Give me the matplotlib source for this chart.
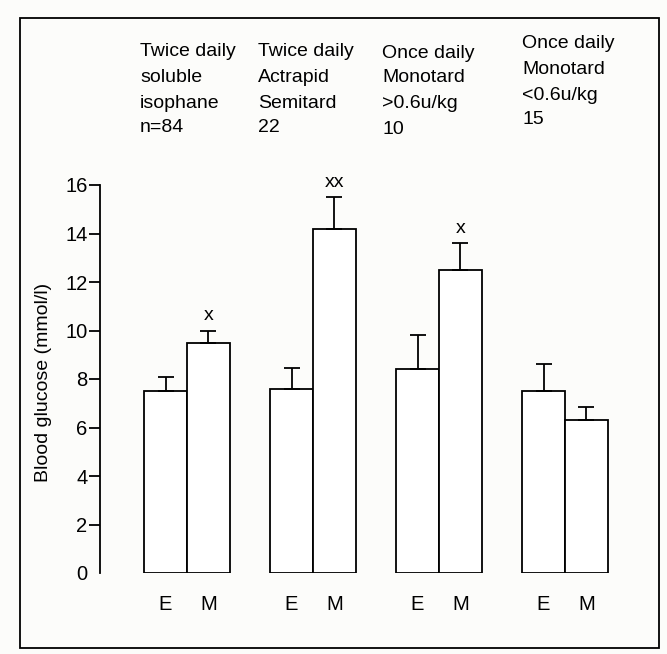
import matplotlib
matplotlib.use("Agg")
import matplotlib.pyplot as plt
from matplotlib.patches import Rectangle
import numpy as np

plt.rcParams['font.family'] = ['Liberation Sans', 'DejaVu Sans']

# header text above each pair of bars
header_lines = [
    ['Twice daily', 'soluble', 'isophane', 'n=84'],
    ['Twice daily', 'Actrapid', 'Semitard', '22'],
    ['Once daily', 'Monotard', '>0.6u/kg', '10'],
    ['Once daily', 'Monotard', '<0.6u/kg', '15'],
]
bar_labels = ['E', 'M']

e_mean = [7.5, 7.6, 8.4, 7.5]
e_err = [0.6, 0.85, 1.4, 1.1]
m_mean = [9.5, 14.2, 12.5, 6.3]
m_err = [0.5, 1.3, 1.1, 0.55]
signif = ['x', 'xx', 'x', '']

yticks = [0, 2, 4, 6, 8, 10, 12, 14, 16]

W, H = 667, 654
fig = plt.figure(figsize=(W / 100, H / 100), dpi=100)
fig.patch.set_facecolor('#fcfcfa')

ax = fig.add_axes([100 / W, (H - 573) / H, 545 / W, 388 / H])
ax.set_facecolor('none')

x = np.arange(len(e_mean))
w = 0.34
ekw = dict(ecolor='black', elinewidth=1.3, capsize=5.5, capthick=1.3)
ax.bar(x - w / 2, e_mean, w, yerr=[np.zeros(len(e_err)), e_err],
       color='white', edgecolor='black', linewidth=1.3, error_kw=ekw)
ax.bar(x + w / 2, m_mean, w, yerr=[np.zeros(len(m_err)), m_err],
       color='white', edgecolor='black', linewidth=1.3, error_kw=ekw)

for i, s in enumerate(signif):
    if s:
        ax.text(x[i] + w / 2, m_mean[i] + m_err[i] + 0.62, s,
                ha='center', va='center', fontsize=14)

ax.set_xlim(-0.69, 3.635)
ax.set_ylim(0, 16)
for sp in ['top', 'right', 'bottom']:
    ax.spines[sp].set_visible(False)
ax.spines['left'].set_linewidth(1.3)

ax.set_yticks(yticks)
ax.set_yticklabels([str(v) for v in yticks], fontsize=14.5)
ax.tick_params(axis='y', length=8, width=1.3, pad=1)
ax.yaxis.get_major_ticks()[0].tick1line.set_visible(False)

xt = np.concatenate([x - w / 2, x + w / 2])
ax.set_xticks(xt)
ax.set_xticklabels([bar_labels[0]] * len(x) + [bar_labels[1]] * len(x), fontsize=14.5)
ax.tick_params(axis='x', length=0, pad=16)

ax.set_ylabel('Blood glucose (mmol/l)', fontsize=14)
ax.yaxis.set_label_coords(-0.088, 0.49)

# header columns
col_x = [140, 258, 382, 522]
col_dy = [0, 0, 1, -8]
row_y = [52, 77, 103, 128]
for c, lines in enumerate(header_lines):
    for r, t in enumerate(lines):
        fig.text(col_x[c] / W, 1 - (row_y[r] + col_dy[c]) / H, t,
                 ha='left', va='center', fontsize=14)

# frame round the figure
fig.patches.append(Rectangle((20 / W, 1 - 648 / H), 639 / W, 630 / H,
                             transform=fig.transFigure, fill=False,
                             edgecolor='black', linewidth=1.3))

fig.savefig('out.png', dpi=100, facecolor=fig.get_facecolor())
